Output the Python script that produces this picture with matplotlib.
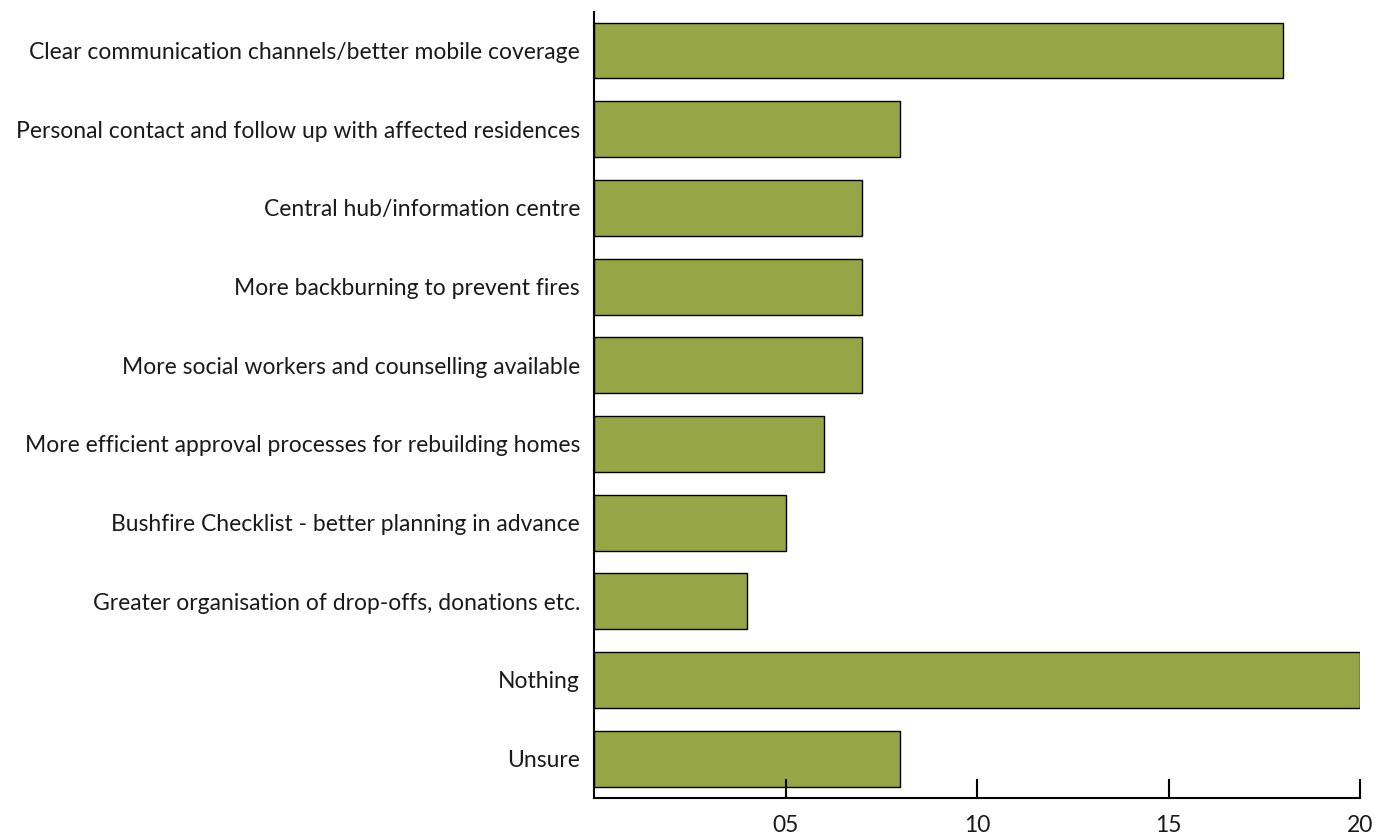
import matplotlib
matplotlib.use("Agg")
import matplotlib.pyplot as plt

categories = [
    "Clear communication channels/better mobile coverage",
    "Personal contact and follow up with affected residences",
    "Central hub/information centre",
    "More backburning to prevent fires",
    "More social workers and counselling available",
    "More efficient approval processes for rebuilding homes",
    "Bushfire Checklist - better planning in advance",
    "Greater organisation of drop-offs, donations etc.",
    "Nothing",
    "Unsure",
]
values = [18, 8, 7, 7, 7, 6, 5, 4, 20, 8]
xticks = [5, 10, 15, 20]
xtick_labels = ["05", "10", "15", "20"]

plt.rcParams['font.family'] = ['Lato', 'DejaVu Sans']

fig = plt.figure(figsize=(13.9, 8.39), dpi=100)
ax = fig.add_axes([594/1390, 1-798/839, (1360-594)/1390, (798-12)/839])

y = list(range(len(categories)))
ax.barh(y, values, height=0.71, color="#96a647", edgecolor="black", linewidth=1.0)

ax.set_xlim(0, 20)
ax.set_ylim(9.5, -0.49)
ax.set_yticks(y)
ax.set_yticklabels(categories, fontsize=16.5, fontweight='normal', color="#1a1a1a")
ax.set_xticks(xticks)
ax.set_xticklabels(xtick_labels, fontsize=16.5, fontweight='normal', color="#1a1a1a")
ax.tick_params(axis='y', length=0, pad=10)
ax.tick_params(axis='x', direction='in', length=14, width=1.5, pad=12)

for s in ['top', 'right']:
    ax.spines[s].set_visible(False)
for s in ['left', 'bottom']:
    ax.spines[s].set_linewidth(1.5)

fig.savefig("out.png", dpi=100)
